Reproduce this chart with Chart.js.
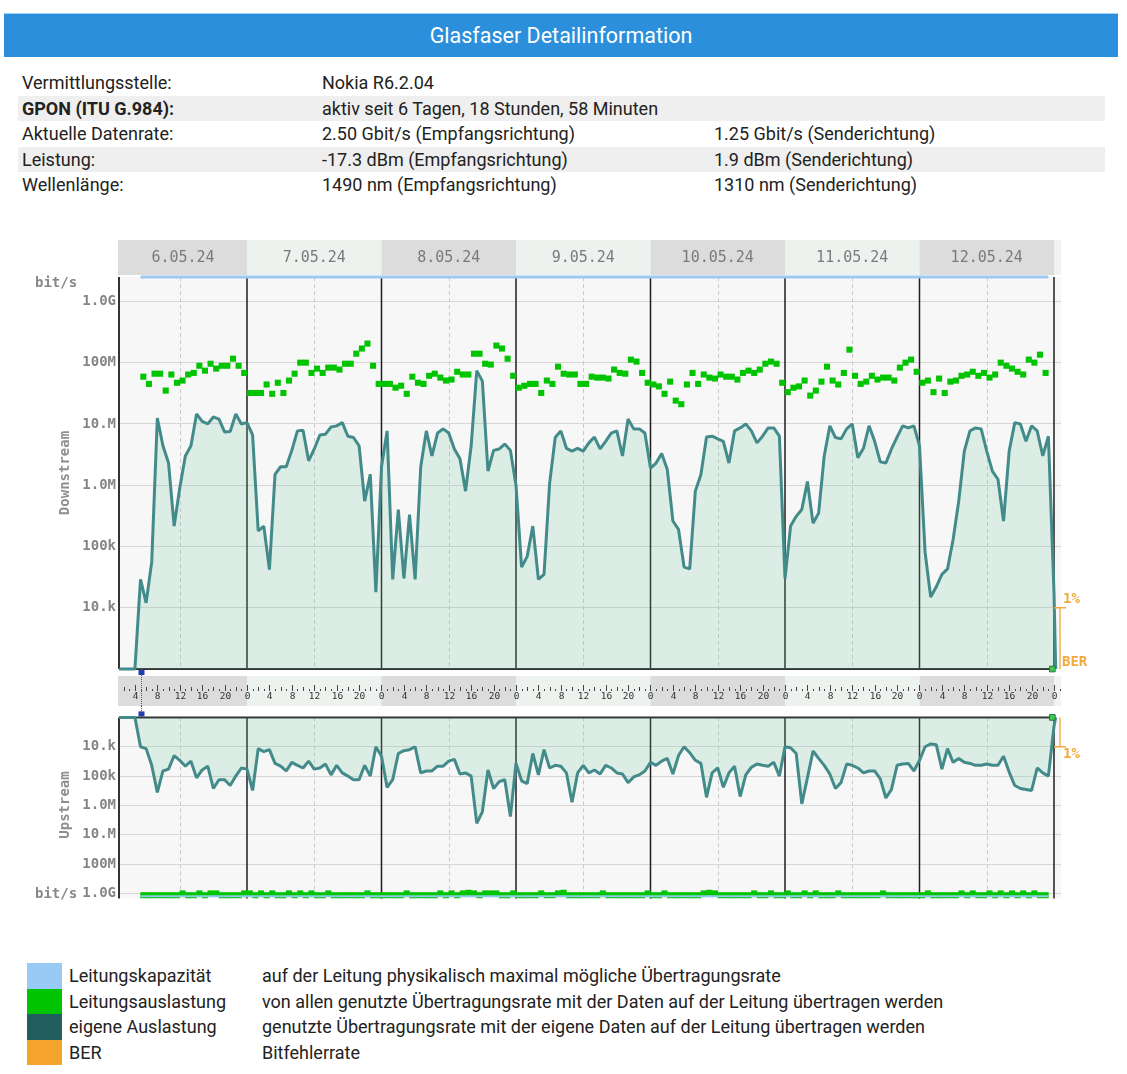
<!DOCTYPE html>
<html lang="de">
<head>
<meta charset="utf-8">
<title>Glasfaser Detailinformation</title>
<script src="https://cdn.jsdelivr.net/npm/chart.js@4.4.1/dist/chart.umd.min.js"></script>
<style>
  html,body{margin:0;padding:0;background:#fff;}
  body{width:1127px;height:1074px;position:relative;overflow:hidden;font-family:Roboto,"Noto Sans",sans-serif;color:#222;}
  .title{position:absolute;left:4px;top:13px;width:1114px;height:44px;background:#2b8fdb;border-top:1px solid #9fd0f5;box-sizing:border-box;color:#fff;font-size:21.5px;line-height:43px;text-align:center;}
  .row{position:absolute;left:18px;width:1087px;height:25.5px;font-size:18px;line-height:25.5px;}
  .row.g{background:#efefef;}
  .row span{position:absolute;top:0;white-space:nowrap;}
  .c1{left:4px}.c2{left:304px}.c3{left:696px}
  canvas{position:absolute;left:0;}
  .leg{position:absolute;left:27px;height:25.5px;width:1000px;font-size:18px;line-height:25.5px;}
  .leg i{position:absolute;left:0;top:0;width:35px;height:25.5px;}
  .leg b{font-weight:normal;position:absolute;left:42px;white-space:nowrap}
  .leg span{position:absolute;left:235px;white-space:nowrap}
</style>
</head>
<body>
<div class="title">Glasfaser Detailinformation</div>

<div class="row" style="top:69.5px"><span class="c1">Vermittlungsstelle:</span><span class="c2">Nokia R6.2.04</span></div>
<div class="row g" style="top:95.5px"><span class="c1" style="font-weight:bold">GPON (ITU G.984):</span><span class="c2">aktiv seit 6 Tagen, 18 Stunden, 58 Minuten</span></div>
<div class="row" style="top:121px"><span class="c1">Aktuelle Datenrate:</span><span class="c2">2.50 Gbit/s (Empfangsrichtung)</span><span class="c3">1.25 Gbit/s (Senderichtung)</span></div>
<div class="row g" style="top:146.5px"><span class="c1">Leistung:</span><span class="c2">-17.3 dBm (Empfangsrichtung)</span><span class="c3">1.9 dBm (Senderichtung)</span></div>
<div class="row" style="top:172px"><span class="c1">Wellenlänge:</span><span class="c2">1490 nm (Empfangsrichtung)</span><span class="c3">1310 nm (Senderichtung)</span></div>

<canvas id="down" width="1127" height="476" style="top:230px;width:1127px;height:476px"></canvas>
<canvas id="up" width="1127" height="204" style="top:706px;width:1127px;height:204px"></canvas>

<div class="leg" style="top:963px"><i style="background:#99c9f5"></i><b>Leitungskapazität</b><span>auf der Leitung physikalisch maximal mögliche Übertragungsrate</span></div>
<div class="leg" style="top:988.5px"><i style="background:#00c400"></i><b>Leitungsauslastung</b><span>von allen genutzte Übertragungsrate mit der Daten auf der Leitung übertragen werden</span></div>
<div class="leg" style="top:1014px"><i style="background:#235e5e"></i><b>eigene Auslastung</b><span>genutzte Übertragungsrate mit der eigene Daten auf der Leitung übertragen werden</span></div>
<div class="leg" style="top:1039.5px"><i style="background:#f5a52c"></i><b>BER</b><span>Bitfehlerrate</span></div>

<script>
// ---------------- data ----------------
const DAY_LABELS = ['6.05.24','7.05.24','8.05.24','9.05.24','10.05.24','11.05.24','12.05.24'];
const DAY_START_HOURS = [0,24,48,72,96,120,144];   // hours since 6.05.24 00:00
const HOUR_LABEL_STEP = 4;
const X_MIN = 1.16, X_MAX = 169.25;                 // visible time window (hours)
const DATA_START_HOUR = 5;
const OWN_FIRST_HOUR = 4;                           // first hourly sample of "eigene Auslastung"
const OWN_END_HOUR = 168.3;
const LINE_FIRST_HOUR = 5.5;                        // first sample of "Leitungsauslastung"
const CAPACITY_HOURS = [5, 167];
const DS_CAPACITY = 2.5e9;
const US_CAPACITY = 1.25e9;
const RATE_FLOOR = 1e3;
const US_MAX = 1.5e9;
const BER_HOUR = 167.7;
const BER_ONE_PERCENT = 1e4;
const TICK_VALUES = [1e4,1e5,1e6,1e7,1e8,1e9];
const TICK_LABELS = ['10.k','100k','1.0M','10.M','100M','1.0G'];

// Downstream, own usage (bit/s), hourly from 04:00 on 6.05
const dsOwn = [
  1e3,2.9e4,1.2e4,5.6e4,1.25e7,4.4e6,2.3e6,2.15e5,9.0e5,3.0e6,4.4e6,1.45e7,1.1e7,1.0e7,1.3e7,1.2e7,7.4e6,7.5e6,1.45e7,1.0e7,
  1.05e7,6.6e6,1.8e5,2.15e5,4.2e4,1.5e6,2.0e6,2.0e6,3.7e6,7.7e6,7.9e6,2.5e6,3.9e6,6.6e6,6.8e6,8.9e6,9.3e6,1.05e7,6.3e6,6.0e6,4.4e6,5.5e5,1.5e6,1.8e4,
  2.0e6,7.7e6,2.9e4,4.0e5,3.0e4,3.3e5,2.9e4,2.0e6,7.7e6,3.0e6,7.1e6,8.3e6,7.1e6,3.9e6,2.7e6,8.0e5,4.4e6,7.4e7,5.0e7,1.7e6,3.7e6,3.9e6,4.7e6,3.7e6,
  1.0e6,4.6e4,6.9e4,2.15e5,2.9e4,3.5e4,1.07e6,6.0e6,7.7e6,4.0e6,3.6e6,4.0e6,3.6e6,4.9e6,6.1e6,3.9e6,5.2e6,7.1e6,7.7e6,3.0e6,1.2e7,8.3e6,8.3e6,7.1e6,
  1.9e6,2.3e6,3.3e6,1.8e6,2.6e5,1.9e5,4.6e4,4.3e4,8.0e5,1.5e6,6.1e6,6.3e6,5.7e6,5.2e6,2.3e6,7.7e6,8.6e6,1.0e7,7.7e6,4.9e6,6.3e6,8.6e6,8.6e6,6.3e6,
  3.0e4,2.15e5,3.1e5,4.0e5,1.15e6,2.4e5,3.5e5,3.0e6,9.3e6,6.0e6,5.7e6,8.3e6,1.0e7,2.8e6,4.0e6,9.3e6,5.2e6,2.4e6,2.3e6,3.9e6,6.1e6,9.3e6,8.6e6,9.3e6,
  4.4e6,8.0e4,1.5e4,2.2e4,3.5e4,4.3e4,1.3e5,5.5e5,3.6e6,7.7e6,8.6e6,8.3e6,3.6e6,1.7e6,1.25e6,2.6e5,3.6e6,1.05e7,1.0e7,5.2e6,9.3e6,7.7e6,3.0e6,6.3e6,1.8e4
];
// Downstream, line usage (bit/s), from 05:30 on 6.05
const dsLine = [
  5.9e7,4.5e7,6.6e7,6.6e7,3.5e7,6.4e7,4.7e7,5.1e7,6.4e7,6.8e7,8.9e7,7.4e7,9.6e7,8.0e7,8.9e7,8.9e7,1.16e8,8.9e7,6.8e7,
  3.2e7,3.2e7,3.2e7,4.4e7,3.1e7,4.7e7,3.2e7,5.1e7,6.6e7,1.0e8,1.0e8,6.8e7,8.0e7,6.8e7,8.3e7,8.3e7,7.7e7,9.6e7,9.6e7,1.4e8,1.7e8,2.05e8,8.9e7,4.5e7,
  4.5e7,4.5e7,3.9e7,4.2e7,3.1e7,5.9e7,4.7e7,4.5e7,6.1e7,6.6e7,5.7e7,5.1e7,5.3e7,7.1e7,6.4e7,6.4e7,1.4e8,1.4e8,9.6e7,9.3e7,1.9e8,1.7e8,1.16e8,6.1e7,
  3.9e7,4.2e7,4.5e7,4.5e7,3.2e7,5.1e7,4.5e7,8.6e7,6.6e7,6.4e7,6.4e7,4.5e7,4.5e7,5.9e7,5.7e7,5.7e7,5.5e7,7.7e7,6.8e7,6.6e7,1.12e8,1.04e8,6.8e7,4.7e7,
  4.4e7,4.1e7,3.1e7,4.9e7,2.4e7,2.1e7,4.4e7,6.8e7,4.5e7,6.4e7,5.7e7,5.5e7,6.4e7,5.9e7,5.9e7,5.3e7,6.8e7,7.4e7,6.8e7,7.7e7,9.6e7,1.04e8,9.6e7,4.7e7,
  3.3e7,3.9e7,4.1e7,5.1e7,2.9e7,3.5e7,4.9e7,8.6e7,5.1e7,4.4e7,6.8e7,1.63e8,6.1e7,4.5e7,4.9e7,6.1e7,5.3e7,5.7e7,5.7e7,5.1e7,8.3e7,1.0e8,1.12e8,7.1e7,
  4.7e7,5.1e7,3.3e7,5.5e7,3.2e7,4.9e7,5.1e7,6.1e7,6.4e7,7.1e7,6.1e7,6.8e7,5.7e7,6.4e7,1.0e8,8.9e7,8.0e7,7.1e7,6.4e7,1.12e8,1.0e8,1.35e8,6.8e7
];
// Upstream, own usage (bit/s), hourly from 04:00 on 6.05
const usOwn = [
  1e3,1.0e4,1.16e4,4.3e4,3.6e5,6.7e4,5.8e4,2.0e4,2.9e4,4.6e4,3.1e4,1.15e5,6.2e4,4.6e4,2.65e5,1.33e5,1.33e5,2.1e5,1.0e5,5.3e4,
  5.8e4,3.1e5,1.16e4,1.46e4,1.26e4,3.7e4,4.6e4,6.7e4,3.4e4,4.3e4,5.3e4,3.1e4,5.8e4,5.3e4,3.9e4,9.1e4,4.3e4,7.8e4,1.0e5,1.33e5,1.33e5,4.3e4,1.0e5,1.0e4,
  2.1e4,2.45e5,1.33e5,1.7e4,1.36e4,1.26e4,1.0e4,7.8e4,6.7e4,6.7e4,4.6e4,4.6e4,3.1e4,2.7e4,8.5e4,7.8e4,1.0e5,4.1e6,1.65e6,6.2e4,2.65e5,1.55e5,1.33e5,2.4e6,
  3.7e4,1.45e5,1.8e5,1.7e4,9.1e4,1.26e4,5.3e4,4.3e4,4.6e4,7.8e4,7.8e5,7.8e4,4.3e4,7.8e4,6.2e4,8.5e4,4.3e4,5.3e4,7.8e4,8.5e4,1.67e5,1.07e5,9.1e4,6.7e4,
  3.4e4,4.3e4,3.1e4,2.5e4,8.5e4,2.0e4,1.0e4,1.6e4,2.9e4,3.7e4,5.3e5,7.8e4,5.3e4,2.4e5,7.8e4,4.6e4,5.0e5,9.1e4,5.0e4,3.9e4,4.3e4,4.6e4,3.4e4,1.0e5,
  1.0e4,1.08e4,1.7e4,8.9e5,1.15e5,1.4e4,2.5e4,4.3e4,8.5e4,2.65e5,1.67e5,3.9e4,4.3e4,5.3e4,7.8e4,6.7e4,6.7e4,1.24e5,5.6e5,2.85e5,4.3e4,3.9e4,3.7e4,6.7e4,
  2.9e4,1.0e4,8.0e3,8.6e3,5.8e4,1.16e4,3.4e4,2.5e4,3.4e4,3.7e4,4.3e4,4.3e4,3.9e4,4.3e4,4.3e4,2.1e4,7.3e4,2.1e5,2.65e5,2.85e5,3.1e5,5.3e4,7.8e4,1.0e5,2.0e3
];
// Upstream, line usage (bit/s), from 05:30 on 6.05
const usLine = [
  1.15e9,1.15e9,1.15e9,1.15e9,1.15e9,1.15e9,1.15e9,1.0e9,1.15e9,1.15e9,1.0e9,1.15e9,1.0e9,1.0e9,1.15e9,1.15e9,1.15e9,1.15e9,1.0e9,
  1.0e9,1.15e9,1.0e9,1.15e9,1.0e9,1.15e9,1.15e9,1.0e9,1.15e9,1.0e9,1.15e9,1.0e9,1.15e9,1.15e9,1.0e9,1.15e9,1.15e9,1.15e9,1.15e9,1.15e9,1.15e9,1.0e9,1.15e9,1.15e9,
  1.15e9,1.15e9,1.15e9,1.15e9,1.0e9,1.15e9,1.15e9,1.15e9,1.15e9,1.15e9,1.0e9,1.15e9,1.0e9,1.15e9,1.0e9,0.95e9,1.0e9,1.15e9,1.0e9,1.0e9,1.0e9,1.15e9,1.15e9,1.0e9,
  1.15e9,1.15e9,1.15e9,1.15e9,1.0e9,1.15e9,1.15e9,1.0e9,0.95e9,1.15e9,1.15e9,1.15e9,1.15e9,1.15e9,1.15e9,1.0e9,1.15e9,1.15e9,1.15e9,1.15e9,1.15e9,1.15e9,1.15e9,1.0e9,
  1.15e9,1.15e9,1.0e9,1.15e9,1.15e9,1.15e9,1.15e9,1.15e9,1.15e9,1.0e9,0.95e9,1.0e9,1.15e9,1.15e9,1.15e9,1.15e9,1.15e9,1.15e9,1.0e9,1.15e9,1.15e9,1.0e9,1.15e9,1.15e9,
  1.0e9,1.15e9,1.15e9,1.0e9,1.15e9,1.0e9,1.15e9,1.15e9,1.15e9,1.0e9,1.15e9,1.15e9,1.15e9,1.15e9,1.15e9,1.15e9,1.15e9,1.0e9,1.15e9,1.15e9,1.15e9,1.15e9,1.15e9,1.15e9,
  1.15e9,1.0e9,1.15e9,1.15e9,1.15e9,1.15e9,1.15e9,1.0e9,1.15e9,1.0e9,1.15e9,1.15e9,1.0e9,1.15e9,1.0e9,1.15e9,1.0e9,1.15e9,1.0e9,1.15e9,1.0e9,1.15e9,1.15e9
];

// ---------------- helpers ----------------
const MONO = '"DejaVu Sans Mono", "Liberation Mono", monospace';
const ownPoints = arr => [{x:X_MIN, y:RATE_FLOOR}]
  .concat(arr.map((v,i) => ({x:OWN_FIRST_HOUR + i, y:v})))
  .concat([{x:OWN_END_HOUR, y:RATE_FLOOR}]);
const linePoints = arr => arr.map((v,i) => ({x:LINE_FIRST_HOUR + i, y:v}));

const framePlugin = {
  id:'frame',
  beforeDraw(chart){
    const {ctx, chartArea:a} = chart;
    ctx.save();
    ctx.fillStyle = '#f7f7f7';
    ctx.fillRect(a.left, a.top, a.right - a.left, a.bottom - a.top);
    ctx.restore();
  },
  beforeDatasetsDraw(chart, args, o){
    const {ctx, chartArea:a} = chart; const x = chart.scales.x;
    ctx.save();
    ctx.strokeStyle = '#cacaca'; ctx.lineWidth = 1; ctx.setLineDash([4,3]);
    DAY_START_HOURS.forEach(d => {
      const p = Math.round(x.getPixelForValue(d + 12)) + 0.5;
      ctx.beginPath(); ctx.moveTo(p, a.top); ctx.lineTo(p, a.bottom); ctx.stroke();
    });
    ctx.setLineDash([]);
    ctx.strokeStyle = '#1e1e1e'; ctx.lineWidth = 1.5;
    DAY_START_HOURS.forEach(d => {
      const h = d + 24;
      if (h < X_MIN || h > X_MAX) return;
      const p = x.getPixelForValue(h);
      ctx.beginPath(); ctx.moveTo(p, a.top); ctx.lineTo(p, a.bottom); ctx.stroke();
    });
    ctx.strokeStyle = '#333'; ctx.lineWidth = 2;
    ctx.beginPath(); ctx.moveTo(a.left, a.top); ctx.lineTo(a.left, a.bottom); ctx.stroke();
    const ey = o.edge === 'bottom' ? a.bottom : a.top;
    ctx.beginPath(); ctx.moveTo(a.left, ey); ctx.lineTo(x.getPixelForValue(168), ey); ctx.stroke();
    ctx.restore();
  }
};

const decorPlugin = {
  id:'decor',
  afterDraw(chart, args, o){
    const {ctx, chartArea:a} = chart; const x = chart.scales.x, y = chart.scales.y;
    const px = h => x.getPixelForValue(h);
    const H = chart.height;
    ctx.save();
    const band = (top, height) => {
      DAY_LABELS.forEach((lab, i) => {
        const x0 = Math.max(a.left - 1, px(DAY_START_HOURS[i])), x1 = px(DAY_START_HOURS[i] + 24);
        ctx.fillStyle = i % 2 ? '#eef2ef' : '#dcdcdc';
        ctx.fillRect(x0, top, x1 - x0, height);
      });
      const xe = px(DAY_START_HOURS[DAY_START_HOURS.length - 1] + 24);
      ctx.fillStyle = '#f1f3f1';
      ctx.fillRect(xe, top, a.right - xe, height);
    };
    if (o.header) {
      const top = a.top - 37, hh = 35;
      band(top, hh);
      ctx.fillStyle = '#7a7a7a'; ctx.font = '15px ' + MONO;
      ctx.textAlign = 'center'; ctx.textBaseline = 'middle';
      DAY_LABELS.forEach((lab, i) => {
        const x0 = Math.max(a.left, px(DAY_START_HOURS[i])), x1 = px(DAY_START_HOURS[i] + 24);
        ctx.fillText(lab, (x0 + x1) / 2, top + hh / 2 + 1);
      });
    }
    if (o.hourAxis) {
      const top = a.bottom + 7;
      band(top, H - top);
      ctx.fillStyle = '#333'; ctx.font = '9.5px ' + MONO;
      ctx.textAlign = 'center'; ctx.textBaseline = 'middle';
      for (let h = Math.ceil(X_MIN); h <= Math.floor(X_MAX); h++) {
        const p = Math.round(px(h)) + 0.5;
        ctx.strokeStyle = '#444'; ctx.lineWidth = 1;
        ctx.beginPath();
        if (h % HOUR_LABEL_STEP === 0) { ctx.moveTo(p, top + 9); ctx.lineTo(p, top + 15); }
        else if (h % 2 === 0) { ctx.moveTo(p, top + 11); ctx.lineTo(p, top + 15); }
        else { ctx.moveTo(p, top + 13); ctx.lineTo(p, top + 15); }
        ctx.stroke();
        if (h % HOUR_LABEL_STEP === 0) ctx.fillText(String(h % 24), p, top + 21);
      }
    }
    const mx = Math.round(px(DATA_START_HOUR)) + 0.5;
    ctx.strokeStyle = '#3355cc'; ctx.lineWidth = 1; ctx.setLineDash([1,1]);
    ctx.beginPath();
    if (o.marker === 'below') { ctx.moveTo(mx, a.bottom); ctx.lineTo(mx, H); }
    else { ctx.moveTo(mx, 0); ctx.lineTo(mx, a.top); }
    ctx.stroke(); ctx.setLineDash([]);
    ctx.fillStyle = '#1f3fae';
    if (o.marker === 'below') ctx.fillRect(mx - 3, a.bottom + 1, 6, 5);
    else ctx.fillRect(mx - 3, a.top - 6, 6, 5);
    const yb = y.getPixelForValue(BER_ONE_PERCENT);
    const bx = a.right - 1;
    ctx.strokeStyle = '#f0a93c'; ctx.lineWidth = 1.3;
    ctx.beginPath();
    ctx.moveTo(bx - 6, yb); ctx.lineTo(bx + 6, yb);
    ctx.moveTo(bx, yb);
    ctx.lineTo(bx, o.marker === 'below' ? a.bottom : a.top);
    ctx.stroke();
    ctx.fillStyle = '#f0a93c'; ctx.font = 'bold 14px ' + MONO;
    ctx.textAlign = 'left'; ctx.textBaseline = 'middle';
    if (o.marker === 'below') {
      ctx.fillText('1%', bx + 3, yb - 8);
      ctx.fillText('BER', bx + 2, a.bottom - 7);
    } else {
      ctx.fillText('1%', bx + 3, yb + 8);
    }
    ctx.fillStyle = '#888'; ctx.font = 'bold 14px ' + MONO;
    ctx.textAlign = 'left';
    ctx.fillText('bit/s', 35, o.bitsY);
    ctx.save();
    ctx.translate(65, o.titleY); ctx.rotate(-Math.PI / 2);
    ctx.textAlign = 'center'; ctx.fillStyle = '#8f8f8f';
    ctx.fillText(o.title, 0, 0);
    ctx.restore();
    ctx.restore();
  }
};

function yScale(max, reverse){
  return {
    type:'logarithmic', min:RATE_FLOOR, max:max, reverse:reverse, bounds:'data',
    afterBuildTicks: s => { s.ticks = TICK_VALUES.map(v => ({value:v})); },
    afterFit: s => { s.width = 119; },
    ticks:{
      callback: v => TICK_LABELS[TICK_VALUES.indexOf(v)],
      font:{family:MONO, size:14, weight:'bold'}, color:'#858585', padding:3, autoSkip:false, maxRotation:0
    },
    grid:{color:'#d6d6d6', drawTicks:false, lineWidth:1},
    border:{display:false}
  };
}

function options(yOpts, padding, frameOpts, decorOpts){
  return {
    responsive:false, animation:false,
    layout:{padding:padding},
    plugins:{legend:{display:false}, tooltip:{enabled:false}, frame:frameOpts, decor:decorOpts},
    scales:{ x:{type:'linear', min:X_MIN, max:X_MAX, display:false}, y:yOpts },
    elements:{line:{tension:0, borderJoinStyle:'bevel'}, point:{radius:0}}
  };
}

const FILL = 'rgba(117,202,162,0.2)';
const TEAL = '#438b8a';

new Chart(document.getElementById('down'), {
  type:'line',
  data:{ datasets:[
    {label:'BER', data:[{x:BER_HOUR, y:RATE_FLOOR}], showLine:false, pointStyle:'rect', pointRadius:4,
     pointBackgroundColor:'#3dcc3d', pointBorderColor:'#2d6f60', pointBorderWidth:1, clip:false, order:0},
    {label:'Leitungsauslastung', data:linePoints(dsLine), showLine:false, pointStyle:'rect', pointRadius:4.3,
     pointBackgroundColor:'#00c400', pointBorderWidth:0, order:1},
    {label:'Leitungskapazität', data:CAPACITY_HOURS.map(h => ({x:h, y:DS_CAPACITY})), borderColor:'#9dc8f0',
     borderWidth:3, pointRadius:0, clip:false, order:2},
    {label:'eigene Auslastung', data:ownPoints(dsOwn), borderColor:TEAL, borderWidth:3, backgroundColor:FILL,
     fill:{value:RATE_FLOOR}, pointRadius:0, clip:3, order:3}
  ]},
  options:options(yScale(DS_CAPACITY, false), {top:47, right:66, bottom:37, left:0},
    {edge:'bottom'}, {header:true, hourAxis:true, marker:'below', title:'Downstream', titleY:243, bitsY:53}),
  plugins:[framePlugin, decorPlugin]
});

new Chart(document.getElementById('up'), {
  type:'line',
  data:{ datasets:[
    {label:'BER', data:[{x:BER_HOUR, y:RATE_FLOOR}], showLine:false, pointStyle:'rect', pointRadius:4,
     pointBackgroundColor:'#3dcc3d', pointBorderColor:'#2d6f60', pointBorderWidth:1, clip:false, order:0},
    {label:'Leitungskapazität', data:CAPACITY_HOURS.map(h => ({x:h, y:US_CAPACITY})), borderColor:'#8ccbea',
     borderWidth:2, pointRadius:0, clip:false, order:1},
    {label:'Leitungsauslastung', data:linePoints(usLine), showLine:false, pointStyle:'rect', pointRadius:4.3,
     pointBackgroundColor:'#00c400', pointBorderWidth:0, clip:false, order:2},
    {label:'eigene Auslastung', data:ownPoints(usOwn), borderColor:TEAL, borderWidth:3, backgroundColor:FILL,
     fill:{value:RATE_FLOOR}, pointRadius:0, clip:3, order:3}
  ]},
  options:options(yScale(US_MAX, true), {top:6, right:66, bottom:11, left:0},
    {edge:'top'}, {header:false, hourAxis:false, marker:'above', title:'Upstream', titleY:99, bitsY:188}),
  plugins:[framePlugin, decorPlugin]
});
</script>
</body>
</html>
